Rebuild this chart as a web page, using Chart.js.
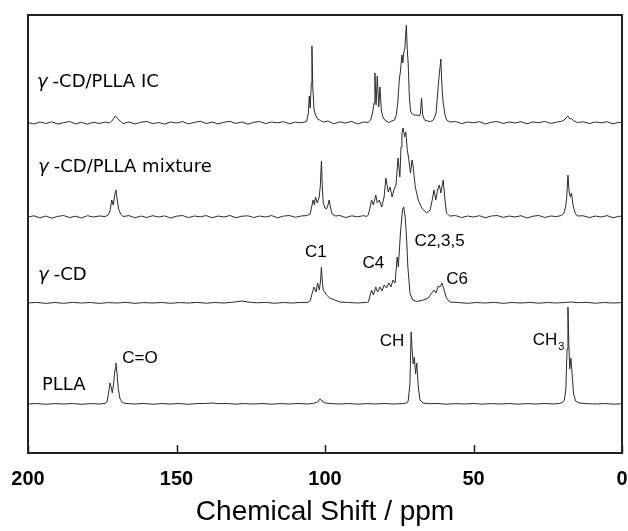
<!DOCTYPE html>
<html>
<head>
<meta charset="utf-8">
<script src="https://cdn.jsdelivr.net/npm/chart.js@4/dist/chart.umd.min.js"></script>
<style>
  body { margin: 0; background: #fff; }
  #wrap { width: 628px; height: 531px; }
</style>
</head>
<body>
<div id="wrap"><canvas id="nmr" width="628" height="531"></canvas></div>
<script>
// spectra as [ppm, height above own baseline]
const icSpec = [[200,0.5],[198,-1],[196,1],[194,-0.5],[192,1.2],[190,-1],[188,0.3],[186,1.5],[184,-0.8],[182,0.6],[180,-1.2],[178,0.8],[176,-0.5],[174,1],[172.5,0],[171.5,3],[170.6,7],[170,5],[169,2],[168,-0.5],[166,1],[164,-1],[162,0.8],[160,1.5],[158,-0.6],[156,0.5],[154,-1.2],[152,1],[150,0],[148,1.4],[146,-0.8],[144,0.6],[142,1.8],[140,-0.5],[138,1],[136,-1],[134,0.8],[132,1.6],[130,-0.4],[128,1],[126,-1.2],[124,0.7],[122,1.5],[120,-0.6],[118,1],[116,0.2],[114,1.4],[112,-0.8],[110,0.9],[108,0.2],[106.2,1.5],[105.6,10],[105.3,27],[105,15],[104.6,40],[104.4,77],[104.1,35],[103.7,14],[103.2,8],[102.5,4],[101.5,2.5],[100.5,1],[99,2],[97,-0.8],[95,1.2],[93,0],[91,1.6],[89,-1],[87,1],[85.5,0.5],[84.6,3],[84,10],[83.5,20],[83.2,50],[82.8,18],[82.4,47],[81.9,16],[81.5,36],[81,12],[80.4,5],[79.5,2],[78.5,0.5],[77.5,2],[76.6,3],[76,8],[75.5,20],[75,43],[74.6,52],[74.1,68],[73.8,60],[73.5,70],[73.1,75],[72.8,90],[72.6,98],[72.3,73],[72,60],[71.6,26],[71.2,12],[70.6,9],[70,8],[69,8],[68.3,7],[67.9,9],[67.5,25],[67.1,8],[66.5,3],[65.5,2],[64.5,1.5],[63.5,3],[62.6,10],[62.2,25],[61.8,40],[61.3,55],[61,64],[60.6,35],[60.2,20],[59.6,8],[59,3],[58,1],[56,1.5],[54,-0.6],[52,1],[50,0.2],[48,1.3],[46,-1],[44,0.8],[42,1.5],[40,-0.5],[38,1],[36,0],[34,1.4],[32,-0.8],[30,1],[28,0.3],[26,1.6],[24,-0.4],[22,1],[20.5,1.5],[19.5,3],[18.6,6],[18.2,7],[17.6,4],[17,4.5],[16.2,2],[15,0.5],[13,1.2],[11,-0.6],[9,1],[7,0.2],[5,1.3],[3,-0.8],[1,0.8],[0,0.2]];

const mixSpec = [[200,0],[198,1.2],[196,-0.8],[194,1],[192,-1.2],[190,0.6],[188,1.5],[186,-0.6],[184,0.8],[182,-1],[180,1.3],[178,0],[176,1],[174,0.5],[173,2],[172.4,6],[171.8,17],[171.3,12],[170.8,22],[170.4,27],[170,18],[169.5,8],[168.8,3],[168,0.5],[166,1.4],[164,-0.8],[162,1],[160,-0.5],[158,1.3],[156,0],[154,1.1],[152,-1],[150,0.8],[148,1.5],[146,-0.6],[144,1],[142,0.2],[140,1.4],[138,-0.8],[136,1],[134,0],[132,1.5],[130,-0.8],[128,0.8],[126,1.2],[124,-0.5],[122,1],[120,0],[118,1.4],[116,-0.8],[114,0.9],[112,1.5],[110,-0.3],[108,1],[106,1.5],[105,3],[104.5,10],[104,17],[103.6,12],[103.2,20],[102.6,14],[102,19],[101.6,30],[101.2,56],[100.9,30],[100.6,14],[100,9],[99.5,8],[99,12],[98.6,17],[98.2,10],[97.6,3],[96.5,1],[95,1.5],[93,-0.6],[91,1.2],[89,0.2],[87,1.4],[86,0.5],[85.4,2],[84.8,10],[84.3,17],[83.7,12],[82.9,22],[82.4,14],[81.7,17],[80.9,10],[80.1,20],[79.5,39],[78.7,25],[78.1,30],[77.4,20],[76.8,27],[76.1,32],[75.4,59],[74.8,40],[74.4,70],[74.1,84],[73.7,89],[73.2,80],[72.8,85],[72.3,67],[71.9,60],[71.2,44],[70.7,57],[70.3,50],[69.6,30],[68.6,17],[67.4,9],[65.8,4],[64.6,7],[63.9,17],[63.3,27],[62.7,17],[62.1,27],[61.5,32],[61,24],[60.2,37],[59.6,17],[59.1,4],[58,1],[56,1.4],[54,-0.6],[52,1],[50,0],[48,1.3],[46,-0.8],[44,1],[42,1.5],[40,-0.4],[38,1],[36,0],[34,1.3],[32,-1],[30,0.8],[28,1.5],[26,-0.5],[24,1],[22,0.4],[20.5,1.5],[19.5,4],[18.9,12],[18.6,20],[18.2,42],[17.8,25],[17.4,20],[17,24],[16.5,12],[15.8,4],[15,1],[13,1.2],[11,-0.6],[9,1],[7,0],[5,1.4],[3,-0.8],[1,0.8],[0,0.4]];

const cdSpec = [[200,0],[197,0.6],[194,-0.4],[191,0.5],[188,-0.3],[185,0.6],[182,0],[179,0.5],[176,-0.4],[173,0.4],[170,0],[167,0.6],[164,-0.3],[161,0.4],[158,0],[155,0.5],[152,-0.3],[149,0.4],[146,0],[143,0.6],[140,-0.2],[137,0.5],[134,0],[131,0.8],[128,2],[126,1],[123,0.2],[120,0.6],[117,-0.3],[114,0.5],[111,0],[108,0.6],[106,0.3],[105,2],[104.3,10],[103.7,16],[103,11],[102.5,20],[101.9,13],[101.5,22],[101.2,36],[100.9,22],[100.6,13],[99.5,8],[98.4,5],[96.7,3],[95,1],[92,0.5],[89,0],[86,0.6],[85.4,1],[84.8,8],[84.3,13],[83.7,8],[82.9,16],[82.3,11],[81.5,16],[80.8,12],[80.1,18],[79.3,15],[78.5,20],[77.8,16],[77.1,23],[76.4,20],[75.7,46],[75.3,36],[74.6,70],[73.9,93],[73.5,96],[73,86],[72.5,63],[72.1,36],[71.4,10],[70.5,3],[69.1,1.5],[66.9,3],[65.2,5],[64.1,10],[63.3,13],[62.6,10],[61.9,17],[61.3,16],[60.6,20],[59.9,13],[59.1,5],[58,1],[55,0.4],[52,-0.3],[49,0.5],[46,0],[43,0.6],[40,-0.3],[37,0.5],[34,0],[31,0.6],[28,-0.2],[25,0.5],[22,0],[19,0.6],[17,1],[15,0.3],[12,0.6],[9,-0.2],[6,0.5],[3,0],[0,0.4]];

const pllaSpec = [[200,0],[197,0.5],[194,-0.3],[191,0.4],[188,0],[185,0.5],[182,-0.3],[179,0.4],[176,0],[174,0.6],[173.4,2],[172.8,12],[172.4,21],[172,17],[171.6,11],[171.2,20],[170.7,35],[170.4,41],[170,30],[169.6,15],[169,5],[168.2,1.5],[167,0.5],[164,0],[161,0.5],[158,-0.2],[155,0.4],[152,0],[149,0.5],[146,-0.3],[143,0.4],[140,0.6],[138,1],[136,0.3],[133,0.5],[130,-0.2],[127,0.4],[124,0],[121,0.5],[118,-0.2],[115,0.4],[112,0],[109,0.5],[106,0],[104,0.6],[102.5,2],[101.7,5],[101,3],[100,1],[98,0.4],[95,0],[92,0.5],[89,-0.2],[86,0.4],[83,0],[80,0.5],[77,0],[74,0.4],[72.5,1],[72,3],[71.4,20],[71,72],[70.7,55],[70.3,40],[69.9,47],[69.5,30],[69.1,41],[68.6,17],[68,4],[67,1],[65,0.3],[62,0.5],[59,-0.2],[56,0.4],[53,0],[50,0.5],[47,-0.2],[44,0.4],[41,0],[38,0.5],[35,-0.2],[32,0.4],[29,0],[26,0.5],[23,0],[21,0.6],[20,1.5],[19.4,4],[18.9,15],[18.5,55],[18.2,97],[17.9,60],[17.6,35],[17.2,46],[16.8,30],[16.3,10],[15.6,3],[14.5,1],[12,0.4],[9,0],[6,0.5],[3,-0.2],[0,0.3]];

const spectra = [icSpec, mixSpec, cdSpec, pllaSpec];
const baseLevel = [330, 236, 150, 49];     // vertical offset of each trace
const traceNames = ['γ', 'γ', 'γ', ''];
const traceRest = ['-CD/PLLA IC', '-CD/PLLA mixture', '-CD', 'PLLA'];
const nameShift = [197, 196.6, 196.6, 195.3];
const nameLevel = [371, 286, 178, 68];

const peakNames = ['C1', 'C4', 'C2,3,5', 'C6', 'C=O', 'CH', 'CH'];
const peakShift = [103.1, 83.7, 61.4, 55.5, 162.3, 77.4, 25.9];
const peakLevel = [201, 190, 212, 174, 95, 112, 113];
const peakSub = ['', '', '', '', '', '', '3'];

const xTicks = [200, 150, 100, 50, 0];

const FONT = '"Liberation Sans", Arial, sans-serif';
const NAME_FONT = '"DejaVu Sans", sans-serif';

const datasets = spectra.map((s, i) => ({
  data: s.map(p => ({ x: p[0], y: p[1] + baseLevel[i] })),
  borderColor: '#2b2b2b',
  borderWidth: 1,
  pointRadius: 0,
  tension: 0,
  fill: false
}));

const frame = {
  id: 'frame',
  afterDraw(chart) {
    const { ctx, chartArea: a, scales } = chart;
    ctx.save();
    ctx.strokeStyle = '#222';
    ctx.lineWidth = 2;
    ctx.strokeRect(a.left, a.top, a.right - a.left, a.bottom - a.top);
    // inward tick marks
    ctx.lineWidth = 1.5;
    xTicks.forEach(t => {
      const px = Math.round(scales.x.getPixelForValue(t)) + 0.5;
      ctx.beginPath();
      ctx.moveTo(px, a.bottom);
      ctx.lineTo(px, a.bottom - 8);
      ctx.stroke();
    });

    ctx.fillStyle = '#000';
    ctx.textBaseline = 'middle';
    ctx.textAlign = 'left';
    traceRest.forEach((txt, i) => {
      let x = scales.x.getPixelForValue(nameShift[i]);
      const y = scales.y.getPixelForValue(nameLevel[i]);
      if (traceNames[i]) {
        ctx.font = 'italic 18px ' + NAME_FONT;
        ctx.fillText(traceNames[i], x, y);
        x += ctx.measureText(traceNames[i]).width + 5;
      }
      ctx.font = '18px ' + NAME_FONT;
      ctx.fillText(txt, x, y);
    });

    ctx.textAlign = 'center';
    peakNames.forEach((txt, i) => {
      const x = scales.x.getPixelForValue(peakShift[i]);
      const y = scales.y.getPixelForValue(peakLevel[i]);
      ctx.font = '17px ' + FONT;
      ctx.fillText(txt, x, y);
      if (peakSub[i]) {
        const w = ctx.measureText(txt).width;
        ctx.font = '11px ' + FONT;
        ctx.textAlign = 'left';
        ctx.fillText(peakSub[i], x + w / 2 + 1, y + 7);
        ctx.textAlign = 'center';
      }
    });
    ctx.restore();
  }
};

new Chart(document.getElementById('nmr'), {
  type: 'line',
  data: { datasets },
  options: {
    responsive: false,
    animation: false,
    devicePixelRatio: 1,
    layout: { padding: { top: 15, left: 28, right: 6, bottom: 0 } },
    plugins: { legend: { display: false }, tooltip: { enabled: false } },
    scales: {
      x: {
        type: 'linear',
        reverse: true,
        min: 0,
        max: 200,
        grid: { display: false },
        border: { display: false },
        afterBuildTicks: s => { s.ticks = xTicks.map(v => ({ value: v })); },
        afterFit: s => {
          s.height = 78;
          s.paddingLeft = 0;
          s.paddingRight = 0;
        },
        ticks: {
          color: '#000',
          padding: 6,
          maxRotation: 0,
          autoSkip: false,
          font: { family: FONT, size: 20, weight: 'bold' }
        },
        title: {
          display: true,
          text: 'Chemical Shift / ppm',
          color: '#000',
          padding: { top: 4, bottom: 2 },
          font: { family: FONT, size: 28 }
        }
      },
      y: { display: false, min: 0, max: 438 }
    }
  },
  plugins: [frame]
});
</script>
</body>
</html>
